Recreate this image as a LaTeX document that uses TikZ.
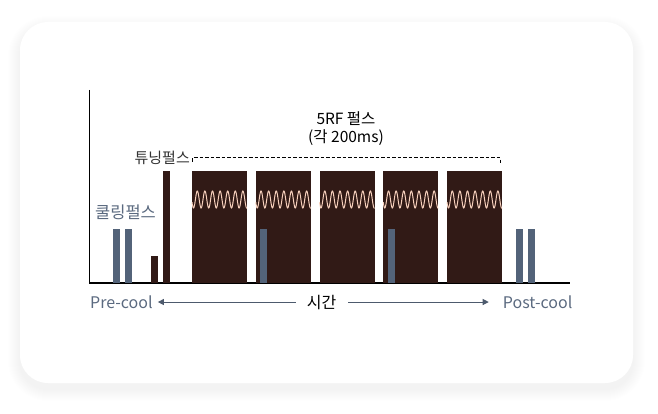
\documentclass[tikz,border=0pt]{standalone}
\usepackage{fontspec}
\setmainfont{Noto Sans CJK KR}
\usetikzlibrary{arrows.meta}
\usepackage{xcolor}
\definecolor{rfbrown}{HTML}{311A16}
\definecolor{coolslate}{HTML}{536379}
\definecolor{wavepeach}{HTML}{F7D0BC}
\definecolor{labelslate}{HTML}{5B6A80}

\begin{document}
\begin{tikzpicture}[x=1pt,y=-1pt,>={Triangle[length=6pt,width=6pt]},line cap=butt,
  coolbar/.style={fill=coolslate},
  rfblock/.style={fill=rfbrown},
  wave/.style={wavepeach,line width=1pt},
  timearrow/.style={->,labelslate!85!black,line width=1pt}]
\useasboundingbox (0,0) rectangle (658,414);
% card and its soft shadow
\foreach \s in {1,...,12}
  \fill[black,opacity=0.005,rounded corners={(28+\s)*1pt}] (20-\s,28-\s) rectangle (633+\s,389+\s);
\fill[white,rounded corners=28pt] (20,22) rectangle (633,383);
% axes
\draw[black,line width=1.2pt] (89.5,90) -- (89.5,283) -- (570,283);
% RF pulses with carrier wave
\foreach \i in {0,...,4}{
  \pgfmathsetmacro\bx{192+63.75*\i}
  \fill[rfblock] (\bx,171) rectangle +(55,112);
  \draw[wave] plot[domain=0:55,samples=160] ({\bx+\x},{199.5-8.5*cos(47.37*(\x-5.3))});
}
% cooling pulses
\fill[coolbar] (113,229) rectangle (119.7,283);
\fill[coolbar] (125.3,229) rectangle (131.7,283);
\fill[coolbar] (260.3,229) rectangle (267.3,283);
\fill[coolbar] (387.8,229) rectangle (394.8,283);
\fill[coolbar] (516,229) rectangle (522.7,283);
\fill[coolbar] (528,229) rectangle (535,283);
% tuning pulses
\fill[rfbrown] (151,256) rectangle (157.7,283);
\fill[rfbrown] (163,171) rectangle (170,283);
% bracket over the RF pulses
\coordinate (dashL) at (192.5,158);
\coordinate (dashR) at (500,158);
\draw[dash pattern=on 3.5pt off 2pt,line width=1pt] ([yshift=-4pt]dashL) -- (dashL) -- (dashR) -- ([yshift=-6pt]dashR);
% labels
\node[align=center,font=\fontsize{15.5}{18}\selectfont] (rflabel) at (346,129) {5RF 펄스\\(각 200ms)};
\node[anchor=east,inner sep=0,text=black!80,font=\fontsize{15}{17}\selectfont] (tunelabel) at (190,158) {튜닝펄스};
\node[anchor=west,inner sep=0,text=labelslate,font=\fontsize{16.5}{19}\selectfont] (coollabel) at (95,212.5) {쿨링펄스};
\node[anchor=base west,inner sep=0,text=labelslate,font=\fontsize{16}{19}\selectfont] (pre) at (90,308) {Pre-cool};
\node[anchor=base,inner sep=0,font=\fontsize{16}{19}\selectfont] (time) at (321.5,308) {시간};
\node[anchor=base east,inner sep=0,text=labelslate,font=\fontsize{16}{19}\selectfont] (post) at (572.5,308) {Post-cool};
% time arrows
\draw[timearrow] ([xshift=-11pt]time.west) -- ([xshift=5pt]time.west -| pre.east);
\draw[timearrow] ([xshift=12pt]time.east) -- ([xshift=-14pt]time.east -| post.west);
\end{tikzpicture}
\end{document}
